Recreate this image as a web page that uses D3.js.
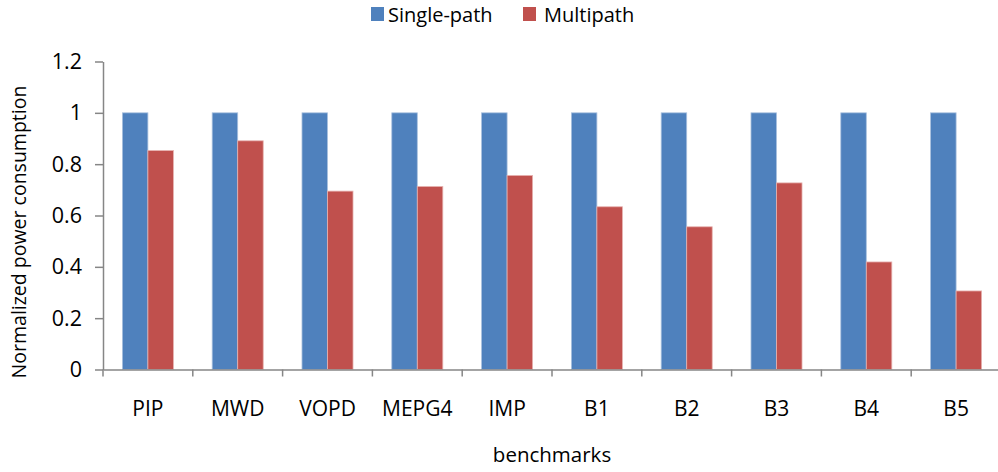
<!DOCTYPE html>
<html><head><meta charset="utf-8">
<script src="https://cdn.jsdelivr.net/npm/d3@7"></script>
<style>body{margin:0;background:#fff}svg{display:block}text{font-family:"Open Sans","Liberation Sans",sans-serif;fill:#000}</style>
</head><body>
<svg id="c" width="998" height="472"></svg>
<script>
const categories = ["PIP","MWD","VOPD","MEPG4","IMP","B1","B2","B3","B4","B5"];
const seriesNames = ["Single-path","Multipath"];
const singlePath = [1,1,1,1,1,1,1,1,1,1];
const multipath = [0.853,0.891,0.695,0.713,0.756,0.634,0.556,0.727,0.419,0.306];
const yTicks = [0,0.2,0.4,0.6,0.8,1,1.2];
const colors = ["#4F81BD","#C0504D"];

(function(){
const svg = d3.select("#c");
const mLeft = 103, mRight = 1001, mTop = 61.5, mBottom = 369.5;
const x = d3.scaleBand().domain(categories).range([mLeft, mRight]).paddingInner(0).paddingOuter(0);
const xs = d3.scaleBand().domain(seriesNames).range([0, x.bandwidth()]).paddingInner(0).paddingOuter(0.76);
const y = d3.scaleLinear().domain([0,1.2]).range([mBottom, mTop]);
const series = [singlePath, multipath];

series.forEach((vals, si) => {
  svg.append("g").selectAll("rect").data(categories).join("rect")
    .attr("x", (d) => x(d) + xs(seriesNames[si]))
    .attr("y", (d,i) => y(vals[i]))
    .attr("width", xs.bandwidth())
    .attr("height", (d,i) => y(0) - y(vals[i]))
    .attr("fill", colors[si])
    .attr("stroke", si===0 ? "#a9c0de" : "#e6b2b0")
    .attr("stroke-width", 0.8);
});

const yAxis = d3.axisLeft(y).tickValues(yTicks).tickSize(8).tickSizeOuter(0).tickPadding(13)
  .tickFormat(d => d3.format("")(d));
const gy = svg.append("g").attr("transform", `translate(${mLeft},0)`).call(yAxis);
gy.select(".domain").attr("stroke", "#868686").attr("stroke-width", 1.5);
gy.selectAll(".tick line").attr("stroke", "#868686").attr("stroke-width", 1.5);
gy.selectAll("text").style("font-size", "21.5px").attr("fill", "#000");

const xAxis = d3.axisBottom(x).tickSize(0).tickPadding(0);
const gx = svg.append("g").attr("transform", `translate(0,${mBottom})`).call(xAxis);
gx.select(".domain").attr("stroke", "#868686").attr("stroke-width", 1.5);
gx.selectAll("text").style("font-size", "21px").attr("fill", "#000").attr("dy", null).attr("y", 46.5);
svg.append("g").selectAll("line").data(categories.concat(["_end"])).join("line")
  .attr("x1", (d,i) => mLeft + i * x.step()).attr("x2", (d,i) => mLeft + i * x.step())
  .attr("y1", mBottom).attr("y2", mBottom + 7)
  .attr("stroke", "#868686").attr("stroke-width", 1.5);

svg.append("text").attr("transform", "translate(26,232) rotate(-90)").attr("text-anchor","middle")
  .style("font-size","19.5px").text("Normalized power consumption");
svg.append("text").attr("x", 552).attr("y", 462).attr("text-anchor","middle")
  .style("font-size","20.5px").text("benchmarks");

const leg = [{x:371, tx:388}, {x:523, tx:544}];
seriesNames.forEach((n,i) => {
  svg.append("rect").attr("x", leg[i].x).attr("y", 7).attr("width", 13).attr("height", 14).attr("fill", colors[i]);
  svg.append("text").attr("x", leg[i].tx).attr("y", 22).style("font-size","20px").text(n);
});
})();
</script>
</body></html>
